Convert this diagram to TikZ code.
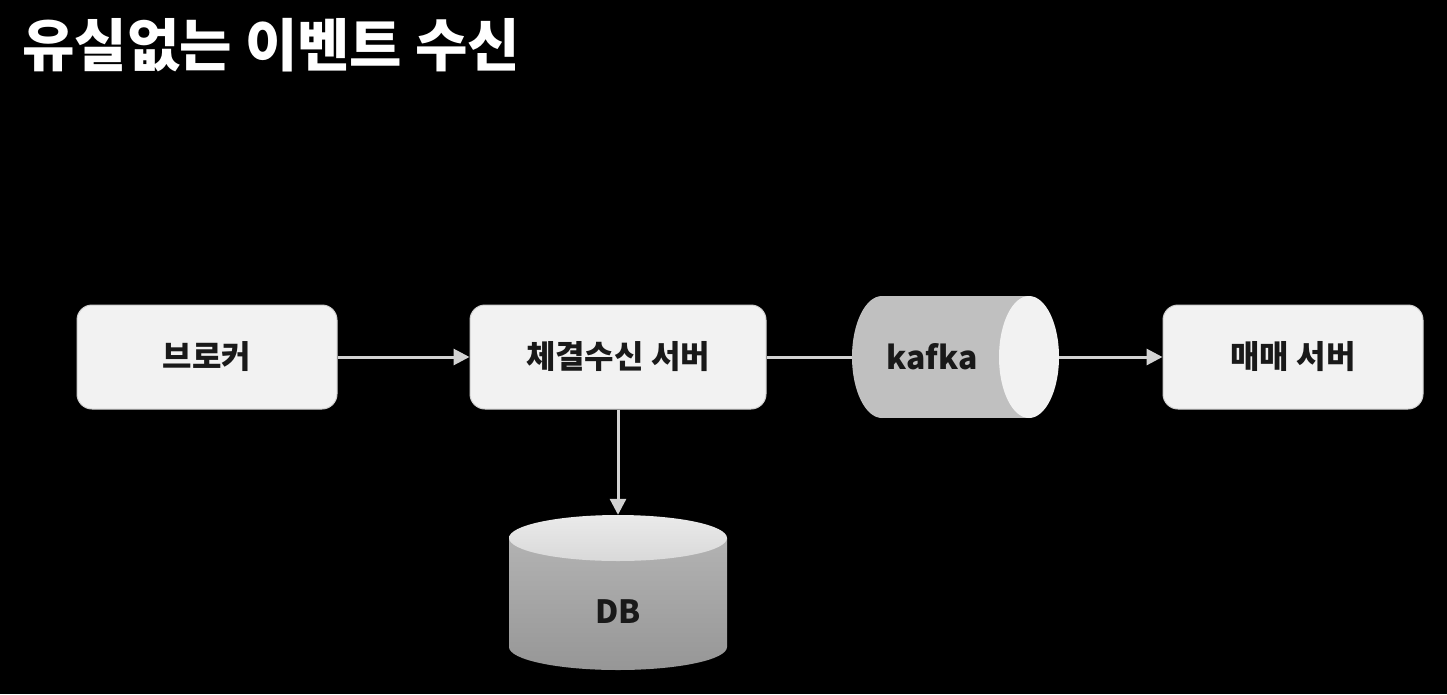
\documentclass[tikz,border=0pt]{standalone}
\usepackage{fontspec}
\setmainfont{Noto Sans CJK KR}
\usetikzlibrary{arrows.meta}
\definecolor{boxfill}{HTML}{F2F2F2}
\definecolor{boxline}{HTML}{CFCFCF}
\definecolor{arrowc}{HTML}{D2D2D2}
\definecolor{kbody}{HTML}{C0C0C0}
\definecolor{kend}{HTML}{F2F2F2}
\tikzset{
  srvbox/.style={draw=boxline, line width=1pt, fill=boxfill, rounded corners=15pt,
    minimum height=104pt, inner sep=0pt, font=\fontsize{32}{38}\selectfont\bfseries, text=black!90},
  conn/.style={draw=arrowc, line width=3pt},
  arr/.style={conn, -{Triangle[length=16pt,width=16pt]}},
  lbl/.style={font=\fontsize{32}{38}\selectfont\bfseries, text=black!90, inner sep=0pt}
}
\begin{document}
\begin{tikzpicture}[x=1pt,y=-1pt]
\fill[black] (0,0) rectangle (1447,694);
\useasboundingbox (0,0) rectangle (1447,694);
% title
\node[anchor=base west, inner sep=0pt, text=white, font=\fontsize{57}{64}\selectfont\bfseries] (title) at (22,66) {유실없는 이벤트 수신};
% boxes
\node[srvbox, minimum width=260pt] (broker) at (207,357) {브로커};
\node[srvbox, minimum width=296pt] (recv) at (618,357) {체결수신 서버};
\node[srvbox, minimum width=260pt] (trade) at (1293,357) {매매 서버};
% kafka cylinder
\fill[kbody] (882,296) rectangle (1029,418);
\fill[kbody] (882,357) ellipse [x radius=30, y radius=61];
\fill[kend] (1029,357) ellipse [x radius=30, y radius=61];
\node[minimum width=207pt, minimum height=122pt, inner sep=0pt] (kafka) at (955.5,357) {};
\node[lbl] (kafkalbl) at (932,357) {kafka};
% DB cylinder
\shade[top color=black!30, bottom color=black!41] (509,538) -- (727,538) -- (727,647)
   arc[start angle=0, end angle=180, x radius=109, y radius=23] -- cycle;
\shade[top color=black!8, bottom color=black!15] (618,538) ellipse [x radius=109, y radius=23];
\node[minimum width=218pt, minimum height=155pt, inner sep=0pt] (db) at (618,592.5) {};
\node[lbl] (dblbl) at (618,612) {DB};
% connectors
\draw[arr] (broker.east) -- (recv.west);
\draw[conn] (recv.east) -- (kafka.west);
\draw[arr] (kafka.east) -- (trade.west);
\draw[arr] (recv.south) -- (db.north);
\end{tikzpicture}
\end{document}
